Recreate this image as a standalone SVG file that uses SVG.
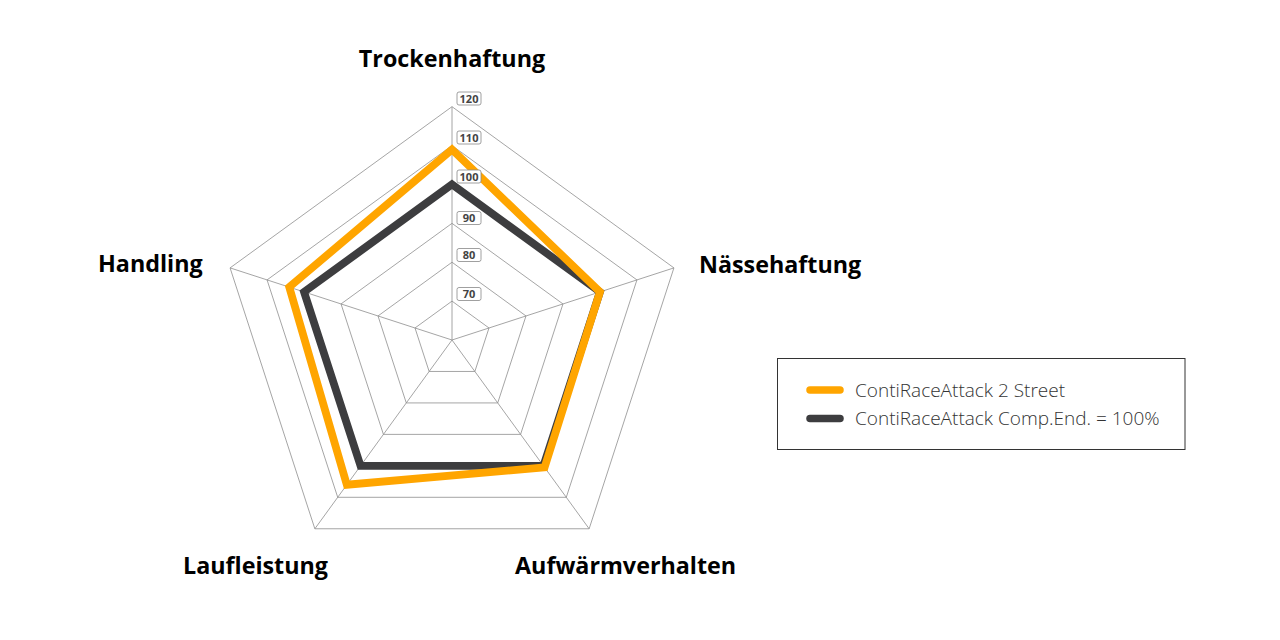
<svg xmlns="http://www.w3.org/2000/svg" width="1280" height="640" viewBox="0 0 1280 640">
<style>
.grid{fill:none;stroke:#8e8e8e;stroke-width:0.8}
.axis{fill:#000;font-family:"Open Sans","Liberation Sans",sans-serif;font-weight:700;font-size:23.3px}
.tick rect{fill:#fff;stroke:#888;stroke-width:0.8}
.tick text{fill:#444;font-family:"Open Sans","Liberation Sans",sans-serif;font-weight:700;font-size:11px;text-anchor:middle}
.series{fill:none;stroke-width:7.8;stroke-linejoin:miter}
.leg{fill:#333;font-family:"Open Sans","Liberation Sans",sans-serif;font-weight:300;font-size:19px}
</style>
<rect width="1280" height="640" fill="#fff"/>
<g id="grid">
<polygon class="grid" points="452,301.11 488.99,327.98 474.86,371.46 429.14,371.46 415.01,327.98"/>
<polygon class="grid" points="452,262.22 525.97,315.96 497.72,402.93 406.28,402.93 378.03,315.96"/>
<polygon class="grid" points="452,223.33 562.96,303.95 520.58,434.39 383.42,434.39 341.04,303.95"/>
<polygon class="grid" points="452,184.44 599.94,291.93 543.43,465.85 360.57,465.85 304.06,291.93"/>
<polygon class="grid" points="452,145.56 636.93,279.91 566.29,497.31 337.71,497.31 267.07,279.91"/>
<polygon class="grid" points="452,106.67 673.91,267.90 589.15,528.77 314.85,528.77 230.09,267.90"/>
<path class="grid" d="M452,340V106.67M452,340L673.91,267.90M452,340L589.15,528.77M452,340L314.85,528.77M452,340L230.09,267.90"/>
</g>
<g id="connectors">
<polygon id="series-comp" class="series" stroke="#3d3d3f" points="452,184.44 599.94,291.93 543.43,465.85 360.57,465.85 304.06,291.93"/>
<polygon id="series-street" class="series" stroke="#ffa500" points="452,149.44 599.94,291.93 544.58,467.42 346.85,484.73 289.26,287.12"/>
</g>
<g id="ticks" class="tick">
<g id="t120"><rect x="457" y="92" width="24" height="13" rx="2"/><text x="469" y="102.5">120</text></g>
<g id="t110"><rect x="457" y="131" width="24" height="13" rx="2"/><text x="469" y="141.5">110</text></g>
<g id="t100"><rect x="457" y="170" width="24" height="13" rx="2"/><text x="469" y="180.5">100</text></g>
<g id="t90"><rect x="457" y="211.5" width="24" height="13" rx="2"/><text x="469" y="222">90</text></g>
<g id="t80"><rect x="457" y="248.5" width="24" height="13" rx="2"/><text x="469" y="259">80</text></g>
<g id="t70"><rect x="457" y="287.5" width="24" height="13" rx="2"/><text x="469" y="298">70</text></g>
</g>
<g id="labels" class="axis">
<text id="l-trocken" x="452" y="67" text-anchor="middle">Trockenhaftung</text>
<text id="l-naesse" x="699" y="273">Nässehaftung</text>
<text id="l-handling" x="98" y="272">Handling</text>
<text id="l-lauf" x="183" y="574">Laufleistung</text>
<text id="l-aufw" x="515" y="574">Aufwärmverhalten</text>
</g>
<g id="legend">
<rect x="777.5" y="358.5" width="407.5" height="91" fill="#fff" stroke="#333" stroke-width="1"/>
<line x1="810" y1="390" x2="840" y2="390" stroke="#ffa500" stroke-width="7.5" stroke-linecap="round"/>
<line x1="810" y1="418.5" x2="840" y2="418.5" stroke="#3d3d3f" stroke-width="7.5" stroke-linecap="round"/>
<text class="leg" x="855" y="396.5">ContiRaceAttack 2 Street</text>
<text class="leg" x="855" y="425">ContiRaceAttack Comp.End. = 100%</text>
</g>
</svg>
